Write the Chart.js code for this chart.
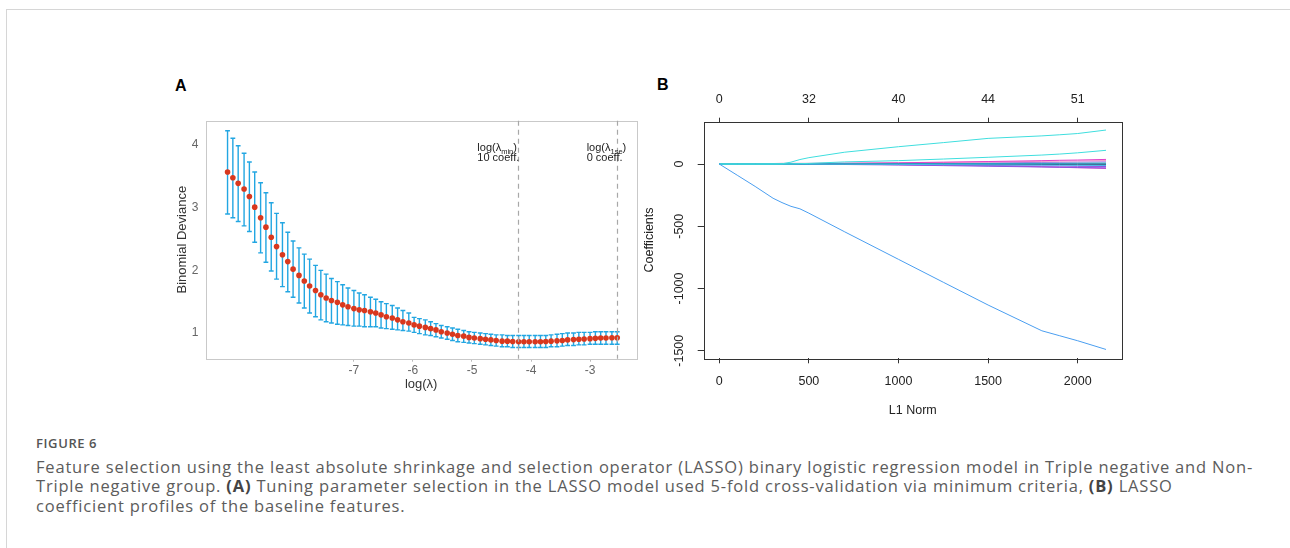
<!DOCTYPE html>
<html lang="en">
<head>
  <meta charset="UTF-8">
  <title>Figure 6 - LASSO feature selection</title>
  <script src="https://cdn.jsdelivr.net/npm/chart.js"></script>
  <style>
    body { margin: 0; background: #fff; width: 1290px; height: 548px; overflow: hidden; position: relative; }
    .frame { position: absolute; left: 6px; top: 9px; right: 0; bottom: 0; border-top: 1px solid #d6d6d6; border-left: 1px solid #d6d6d6; }
    .panel-label { position: absolute; font: bold 16px "Liberation Sans", Arial, sans-serif; color: #000; line-height: 16px; }
    #cvA { position: absolute; left: 150px; top: 60px; }
    #cvB { position: absolute; left: 630px; top: 60px; }
    .fig-no { position: absolute; left: 36px; top: 436px; font: 600 13px "Open Sans", sans-serif; line-height: 15px; color: #555; letter-spacing: 0.6px; }
    .caption { position: absolute; left: 36px; top: 457px; font: 400 16.5px "Open Sans", sans-serif; line-height: 19.4px; color: #5c5c5c; white-space: nowrap; }
    .caption span { display: block; }
    .caption b { color: #444; font-weight: 700; }
  </style>
</head>
<body>
  <div class="frame"></div>
  <div class="panel-label" style="left:175px; top:78px;">A</div>
  <div class="panel-label" style="left:657px; top:77px;">B</div>
  <canvas id="cvA" width="500" height="350"></canvas>
  <canvas id="cvB" width="510" height="360"></canvas>
  <div class="fig-no">FIGURE 6</div>
  <div class="caption" id="caption"><span>Feature selection using the least absolute shrinkage and selection operator (LASSO) binary logistic regression model in Triple negative and Non-</span><span>Triple negative group. <b>(A)</b> Tuning parameter selection in the LASSO model used 5-fold cross-validation via minimum criteria, <b>(B)</b> LASSO</span><span>coefficient profiles of the baseline features.</span></div>

  <script>
    // ---- Panel A: cross-validation curve ----
    const lambdaLog = [
      -9.14, -9.05, -8.96, -8.86, -8.77, -8.68, -8.58, -8.49, -8.40, -8.31,
      -8.21, -8.12, -8.03, -7.93, -7.84, -7.75, -7.65, -7.56, -7.47, -7.38,
      -7.28, -7.19, -7.10, -7.00, -6.91, -6.82, -6.72, -6.63, -6.54, -6.45,
      -6.35, -6.26, -6.17, -6.07, -5.98, -5.89, -5.79, -5.70, -5.61, -5.52,
      -5.42, -5.33, -5.24, -5.14, -5.05, -4.96, -4.86, -4.77, -4.68, -4.59,
      -4.49, -4.40, -4.31, -4.21, -4.12, -4.03, -3.93, -3.84, -3.75, -3.66,
      -3.56, -3.47, -3.38, -3.28, -3.19, -3.10, -3.00, -2.91, -2.82, -2.73,
      -2.63, -2.54
    ];
    const devMean = [
      3.57, 3.48, 3.39, 3.30, 3.18, 3.01, 2.84, 2.69, 2.53, 2.38,
      2.25, 2.14, 2.02, 1.92, 1.83, 1.75, 1.68, 1.61, 1.56, 1.52,
      1.49, 1.45, 1.42, 1.39, 1.37, 1.36, 1.34, 1.32, 1.29, 1.26,
      1.24, 1.21, 1.18, 1.16, 1.13, 1.11, 1.09, 1.07, 1.05, 1.02,
      1.00, 0.98, 0.96, 0.95, 0.93, 0.92, 0.91, 0.90, 0.89, 0.88,
      0.87, 0.87, 0.865, 0.86, 0.86, 0.86, 0.86, 0.86, 0.865, 0.87,
      0.875, 0.88, 0.89, 0.895, 0.90, 0.905, 0.91, 0.915, 0.92, 0.92,
      0.925, 0.925
    ];
    const devUpper = [
      4.23, 4.11, 3.99, 3.87, 3.73, 3.57, 3.40, 3.24, 3.08, 2.91,
      2.76, 2.61, 2.47, 2.36, 2.26, 2.18, 2.08, 2.00, 1.94, 1.87,
      1.82, 1.77, 1.72, 1.68, 1.64, 1.61, 1.57, 1.54, 1.50, 1.47,
      1.44, 1.40, 1.36, 1.32, 1.25, 1.23, 1.21, 1.18, 1.15, 1.12,
      1.10, 1.08, 1.06, 1.04, 1.02, 1.01, 1.00, 0.99, 0.98, 0.97,
      0.97, 0.96, 0.96, 0.96, 0.96, 0.96, 0.96, 0.96, 0.96, 0.97,
      0.98, 0.99, 1.00, 1.00, 1.01, 1.01, 1.01, 1.02, 1.02, 1.02,
      1.02, 1.02
    ];
    const devLower = [
      2.90, 2.84, 2.78, 2.71, 2.62, 2.45, 2.28, 2.13, 1.99, 1.86,
      1.74, 1.66, 1.57, 1.48, 1.40, 1.32, 1.26, 1.21, 1.18, 1.16,
      1.14, 1.13, 1.12, 1.11, 1.11, 1.10, 1.10, 1.10, 1.08, 1.07,
      1.06, 1.05, 1.04, 1.03, 1.01, 0.99, 0.97, 0.96, 0.94, 0.92,
      0.90, 0.88, 0.86, 0.85, 0.84, 0.83, 0.82, 0.81, 0.80, 0.79,
      0.78, 0.78, 0.77, 0.77, 0.77, 0.77, 0.77, 0.77, 0.77, 0.78,
      0.78, 0.79, 0.80, 0.80, 0.81, 0.81, 0.82, 0.82, 0.82, 0.82,
      0.82, 0.82
    ];
    const xTicksA = [-7, -6, -5, -4, -3];
    const yTicksA = [1, 2, 3, 4];
    const lambdaMinLog = -4.215;
    const lambda1seLog = -2.55;

    // ---- Panel B: coefficient profiles ----
    const l1Norm = [0, 100, 200, 300, 350, 400, 450, 500, 700, 1000, 1250, 1500, 1800, 1900, 2000, 2158];
    const coefLarge   = [0, -90, -180, -275, -310, -340, -360, -395, -545, -766, -950, -1133, -1340, -1380, -1420, -1490];
    const coefCyan1   = [0, 0, 0, 1, 2, 15, 36, 51, 95, 139, 172, 206, 226, 235, 245, 273];
    const coefCyan2   = [0, 0, 0, 0, 0, 1, 3, 5, 17, 27, 40, 54, 72, 80, 90, 110];
    const coefMagenta = [0, 0, 0, 2, 3, 3, 4, 4, 6, 10, 15, 20, 27, 30, 32, 37];
    const coefPink    = [0, 0, 1, 4, 6, 6, 6, 6, 7, 9, 12, 16, 21, 23, 25, 28];
    const coefViolet  = [0, 0, 0, 0, 0, 0, 1, 1, 2, 4, 7, 10, 13, 14, 16, 18];
    const coefTeal    = [0, 0, 0, 0, 0, 0, 0, 0, 1, 2, 3, 4, 6, 6, 7, 8];
    const coefSlate   = [0, 0, 0, 0, 0, 0, 0, 0, 0, 1, 1, 1, 2, 2, 2, 2];
    const coefNavy    = [0, 0, 0, 0, 0, 0, 0, 0, -1, -1, -2, -3, -4, -4, -5, -5];
    const coefSky     = [0, 0, 0, 0, 0, 0, 0, -1, -1, -3, -5, -7, -9, -10, -11, -12];
    const coefPurple  = [0, 0, 0, 0, 0, 0, -1, -1, -2, -5, -8, -12, -16, -17, -19, -20];
    const coefIndigo  = [0, 0, 0, 0, 0, -1, -1, -2, -4, -8, -13, -18, -24, -26, -28, -30];
    const coefOrchid  = [0, 0, 0, 0, 0, 0, -1, -1, -2, -5, -9, -14, -22, -26, -30, -36];
    const xTicksB = [0, 500, 1000, 1500, 2000];
    const dfTop = ['0', '32', '40', '44', '51'];
    const yTicksB = [-1500, -1000, -500, 0];

    const rFont = '"Liberation Sans", Arial, sans-serif';

    // error bars + frame for panel A
    const cvPlugin = {
      id: 'cvPlugin',
      beforeDatasetsDraw(chart) {
        const { ctx, chartArea: a, scales: { x, y } } = chart;
        ctx.save();
        ctx.strokeStyle = '#c9c9c9';
        ctx.lineWidth = 1;
        ctx.strokeRect(Math.round(a.left) + 0.5, Math.round(a.top) + 0.5, Math.round(a.right - a.left), Math.round(a.bottom - a.top));
        ctx.strokeStyle = '#22a6e2';
        ctx.lineWidth = 1.4;
        lambdaLog.forEach((v, i) => {
          const px = x.getPixelForValue(v);
          const top = y.getPixelForValue(devUpper[i]);
          const bot = y.getPixelForValue(devLower[i]);
          ctx.beginPath();
          ctx.moveTo(px, top); ctx.lineTo(px, bot);
          ctx.moveTo(px - 2.4, top); ctx.lineTo(px + 2.4, top);
          ctx.moveTo(px - 2.4, bot); ctx.lineTo(px + 2.4, bot);
          ctx.stroke();
        });
        ctx.restore();
      },
      afterDatasetsDraw(chart) {
        const { ctx, chartArea: a, scales: { x } } = chart;
        ctx.save();
        ctx.strokeStyle = '#a8a8a8';
        ctx.lineWidth = 1.2;
        ctx.setLineDash([5, 4]);
        [lambdaMinLog, lambda1seLog].forEach(v => {
          const px = Math.round(x.getPixelForValue(v)) + 0.5;
          ctx.beginPath();
          ctx.moveTo(px, a.top); ctx.lineTo(px, a.bottom);
          ctx.stroke();
        });
        ctx.setLineDash([]);
        ctx.fillStyle = '#222';
        ctx.textBaseline = 'alphabetic';
        const lab = (px, py, sub, line2) => {
          ctx.font = '11px ' + rFont;
          const t = 'log(\u03bb';
          ctx.fillText(t, px, py);
          let w = ctx.measureText(t).width;
          ctx.font = '7.5px ' + rFont;
          ctx.fillText(sub, px + w, py + 2.5);
          w += ctx.measureText(sub).width;
          ctx.font = '11px ' + rFont;
          ctx.fillText(')', px + w, py);
          ctx.fillText(line2, px, py + 10);
        };
        lab(x.getPixelForValue(lambdaMinLog) - 41, a.top + 30.5, 'min', '10 coeff.');
        lab(x.getPixelForValue(lambda1seLog) - 30, a.top + 30.5, '1se', '0 coeff.');
        ctx.restore();
      }
    };

    new Chart(document.getElementById('cvA'), {
      type: 'scatter',
      data: {
        datasets: [{
          data: lambdaLog.map((v, i) => ({ x: v, y: devMean[i] })),
          pointRadius: 2.8,
          pointBackgroundColor: '#d9381e',
          pointBorderWidth: 0
        }]
      },
      options: {
        responsive: false,
        animation: false,
        layout: { padding: { top: 60.7, right: 13.3, left: 0, bottom: 0 } },
        plugins: { legend: { display: false }, tooltip: { enabled: false } },
        scales: {
          x: {
            type: 'linear', min: -9.51, max: -2.21,
            afterBuildTicks: s => { s.ticks = xTicksA.map(v => ({ value: v })); },
            afterFit: s => { s.height = 51.3; },
            border: { display: false },
            grid: { drawOnChartArea: false, drawTicks: true, tickLength: 3, color: '#bbb' },
            ticks: { font: { family: rFont, size: 12 }, color: '#666', padding: 1.5, callback: v => String(v) },
            title: { display: true, text: 'log(\u03bb)', font: { family: rFont, size: 13 }, color: '#333', padding: { top: 0, bottom: 17.9 } }
          },
          y: {
            min: 0.59, max: 4.39,
            afterBuildTicks: s => { s.ticks = yTicksA.map(v => ({ value: v })); },
            afterFit: s => { s.width = 55.7; },
            border: { display: false },
            grid: { drawOnChartArea: false, drawTicks: false },
            ticks: { font: { family: rFont, size: 12 }, color: '#666', padding: 7.4, callback: v => String(v) },
            title: { display: true, text: 'Binomial Deviance', font: { family: rFont, size: 13 }, color: '#333', padding: { top: 24.2, bottom: 0 } }
          }
        }
      },
      plugins: [cvPlugin]
    });

    // frame + rotated y labels for panel B
    const pathPlugin = {
      id: 'pathPlugin',
      afterDraw(chart) {
        const { ctx, chartArea: a, scales: { y } } = chart;
        ctx.save();
        ctx.strokeStyle = '#333';
        ctx.lineWidth = 1;
        ctx.strokeRect(Math.round(a.left) + 0.5, Math.round(a.top) + 0.5, Math.round(a.right - a.left), Math.round(a.bottom - a.top));
        ctx.fillStyle = '#222';
        ctx.font = '12.5px ' + rFont;
        ctx.textAlign = 'center';
        ctx.textBaseline = 'middle';
        yTicksB.forEach(v => {
          ctx.save();
          ctx.translate(a.left - 23.7, y.getPixelForValue(v));
          ctx.rotate(-Math.PI / 2);
          ctx.fillText(String(v), 0, 0);
          ctx.restore();
        });
        ctx.restore();
      }
    };

    const pathSets = [
      [coefLarge, '#4a9ef0'],
      [coefCyan1, '#3fdede'],
      [coefCyan2, '#3fdede'],
      [coefSky, '#48b8e8'],
      [coefTeal, '#22a2c4'],
      [coefSlate, '#2b6c88'],
      [coefNavy, '#2f5a8a'],
      [coefMagenta, '#e040c8'],
      [coefPink, '#f29ac4'],
      [coefViolet, '#b07ae6'],
      [coefPurple, '#9b4fe0'],
      [coefIndigo, '#8a55e0'],
      [coefOrchid, '#c846c8']
    ];

    const axisB = {
      type: 'linear', min: -87, max: 2246,
      afterBuildTicks: s => { s.ticks = xTicksB.map(v => ({ value: v })); },
      border: { display: false }
    };

    new Chart(document.getElementById('cvB'), {
      type: 'scatter',
      data: {
        datasets: pathSets.map(([vals, col]) => ({
          data: l1Norm.map((n, i) => ({ x: n, y: vals[i] })),
          showLine: true,
          borderColor: col,
          borderWidth: 1,
          pointRadius: 0,
          tension: 0
        }))
      },
      options: {
        responsive: false,
        animation: false,
        layout: { padding: { top: 0, right: 18.2, left: 0, bottom: 0 } },
        plugins: { legend: { display: false }, tooltip: { enabled: false } },
        scales: {
          x: Object.assign({}, axisB, {
            position: 'bottom',
            afterFit: s => { s.height = 61.7; },
            grid: { drawOnChartArea: false, tickLength: 5, color: '#333' },
            ticks: { font: { family: rFont, size: 12.5 }, color: '#222', padding: 10.9, callback: v => String(v) },
            title: { display: true, text: 'L1 Norm', font: { family: rFont, size: 12.5 }, color: '#222', padding: { top: 0, bottom: 1.8 } }
          }),
          x2: Object.assign({}, axisB, {
            position: 'top',
            afterFit: s => { s.height = 61.7; },
            grid: { drawOnChartArea: false, tickLength: 4, color: '#333' },
            ticks: { font: { family: rFont, size: 12.5 }, color: '#222', padding: 10.9, callback: (v, i) => dfTop[i] }
          }),
          y: {
            min: -1561, max: 340,
            afterBuildTicks: s => { s.ticks = yTicksB.map(v => ({ value: v })); },
            afterFit: s => { s.width = 73.7; },
            border: { display: false },
            grid: { drawOnChartArea: false, tickLength: 6, color: '#333' },
            ticks: { display: false },
            title: { display: true, text: 'Coefficients', font: { family: rFont, size: 12.5 }, color: '#222', padding: { top: 12.5, bottom: 0 } }
          }
        }
      },
      plugins: [pathPlugin]
    });

    // stretch caption tracking so the first line spans the same width as the printed figure
    const capLines = document.querySelectorAll('#caption span');
    const firstW = capLines[0].getBoundingClientRect().width;
    const chars = capLines[0].textContent.length;
    document.getElementById('caption').style.letterSpacing = ((1217 - firstW) / chars).toFixed(3) + 'px';
  </script>
</body>
</html>
